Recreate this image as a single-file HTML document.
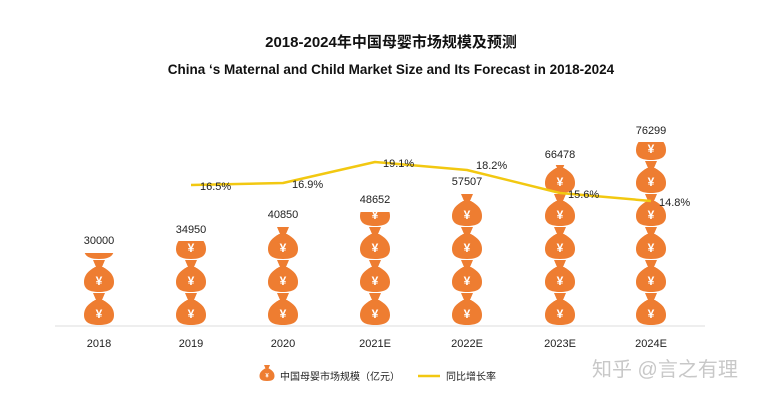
<!DOCTYPE html>
<html><head><meta charset="utf-8"><style>
body{margin:0;background:#fff;}
svg{display:block;font-family:"Liberation Sans","Noto Sans CJK SC",sans-serif;}
</style></head><body>
<svg width="782" height="400" viewBox="0 0 782 400" xmlns="http://www.w3.org/2000/svg">
<defs>
<g id="bag">
<path d="M-6,-32 L6,-32 L3,-25 L-3,-25 Z" fill="#ee7d31"/>
<path d="M-4,-25 C-9,-22 -15,-18 -15,-10 C-15,-3 -10,0 0,0 C10,0 15,-3 15,-10 C15,-18 9,-22 4,-25 Z" fill="#ee7d31"/>
<text x="0" y="-7" font-size="12" fill="#fff" text-anchor="middle" font-weight="bold">¥</text>
</g>
<g id="stack">
<use href="#bag" y="325"/><use href="#bag" y="292"/><use href="#bag" y="259"/><use href="#bag" y="226"/><use href="#bag" y="193"/><use href="#bag" y="160"/><use href="#bag" y="127"/>
</g>
<clipPath id="c0"><rect x="0" y="253" width="782" height="80"/></clipPath>
<clipPath id="c1"><rect x="0" y="241" width="782" height="90"/></clipPath>
<clipPath id="c2"><rect x="0" y="227" width="782" height="110"/></clipPath>
<clipPath id="c3"><rect x="0" y="212" width="782" height="130"/></clipPath>
<clipPath id="c4"><rect x="0" y="194" width="782" height="150"/></clipPath>
<clipPath id="c5"><rect x="0" y="165" width="782" height="170"/></clipPath>
<clipPath id="c6"><rect x="0" y="142" width="782" height="190"/></clipPath>
</defs>
<text x="391" y="47" font-size="15" font-weight="bold" text-anchor="middle" fill="#111">2018-2024年中国母婴市场规模及预测</text>
<text x="391" y="74" font-size="13.5" font-weight="bold" text-anchor="middle" fill="#111">China ‘s Maternal and Child Market Size and Its Forecast in 2018-2024</text>
<line x1="55" y1="326" x2="705" y2="326" stroke="#ddd" stroke-width="1"/>
<g clip-path="url(#c0)"><use href="#stack" x="99"/></g>
<g clip-path="url(#c1)"><use href="#stack" x="191"/></g>
<g clip-path="url(#c2)"><use href="#stack" x="283"/></g>
<g clip-path="url(#c3)"><use href="#stack" x="375"/></g>
<g clip-path="url(#c4)"><use href="#stack" x="467"/></g>
<g clip-path="url(#c5)"><use href="#stack" x="560"/></g>
<g clip-path="url(#c6)"><use href="#stack" x="651"/></g>
<g font-size="11" fill="#222" text-anchor="middle">
<text x="99" y="244">30000</text><text x="191" y="233">34950</text><text x="283" y="218">40850</text>
<text x="375" y="203">48652</text><text x="467" y="185">57507</text><text x="560" y="158">66478</text><text x="651" y="134">76299</text>
<text x="99" y="347">2018</text><text x="191" y="347">2019</text><text x="283" y="347">2020</text>
<text x="375" y="347">2021E</text><text x="467" y="347">2022E</text><text x="560" y="347">2023E</text><text x="651" y="347">2024E</text>
</g>
<polyline points="191,185 283,183 375,162 467,170 560,193 651,201" fill="none" stroke="#f2c811" stroke-width="2.5" stroke-linejoin="round"/>
<g font-size="11" fill="#222">
<text x="200" y="190">16.5%</text><text x="292" y="188">16.9%</text><text x="383" y="167">19.1%</text>
<text x="476" y="169">18.2%</text><text x="568" y="198">15.6%</text><text x="659" y="206">14.8%</text>
</g>
<g transform="translate(267,381) scale(0.5)"><use href="#bag"/></g>
<text x="280" y="380" font-size="10" fill="#222">中国母婴市场规模（亿元）</text>
<line x1="418" y1="376" x2="440" y2="376" stroke="#f2c811" stroke-width="2.5"/>
<text x="446" y="380" font-size="10" fill="#222">同比增长率</text>
<text x="592" y="376" font-size="20" fill="#c8c8c8">知乎 @言之有理</text>
</svg>
</body></html>
